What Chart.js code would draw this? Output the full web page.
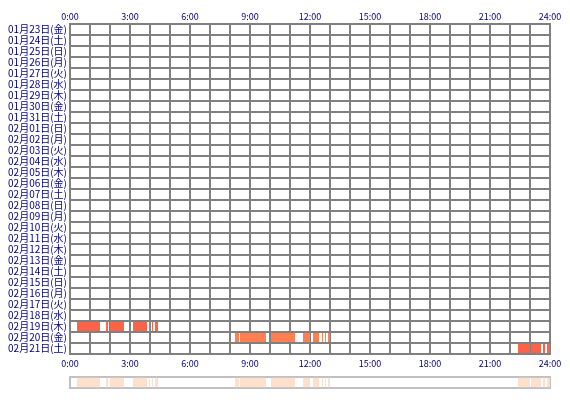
<!DOCTYPE html>
<html><head><meta charset="utf-8">
<script src="https://cdn.jsdelivr.net/npm/chart.js@4"></script>
<style>body{margin:0;background:#fff}#w{position:relative;width:570px;height:400px}
#c1{position:absolute;left:0;top:0}#c2{position:absolute;left:0;top:376px}</style>
</head><body><div id="w"><canvas id="c1" width="570" height="372"></canvas><canvas id="c2" width="570" height="13"></canvas></div>
<script>
const days=["01月23日(金)","01月24日(土)","01月25日(日)","01月26日(月)","01月27日(火)","01月28日(水)","01月29日(木)","01月30日(金)","01月31日(土)","02月01日(日)","02月02日(月)","02月03日(火)","02月04日(水)","02月05日(木)","02月06日(金)","02月07日(土)","02月08日(日)","02月09日(月)","02月10日(火)","02月11日(水)","02月12日(木)","02月13日(金)","02月14日(土)","02月15日(日)","02月16日(月)","02月17日(火)","02月18日(水)","02月19日(木)","02月20日(金)","02月21日(土)"];
const tickLabels=["0:00","3:00","6:00","9:00","12:00","15:00","18:00","21:00","24:00"];
const seg19=[[0.35,1.5],[1.8,1.9],[2.0,2.7],[3.15,3.85],[3.95,4.0],[4.1,4.15],[4.25,4.4]];
const seg20=[[8.25,8.45],[8.5,9.8],[10.05,11.25],[11.65,12.0],[12.15,12.45],[12.6,12.65],[12.75,12.8],[12.9,13.0]];
const seg21=[[22.4,23.0],[23.05,23.55],[23.65,23.75],[23.85,24.0]];
const font={family:"'Noto Sans CJK JP'",size:10};
const navy="#000080";
const tickCb=v=>v%3===0?tickLabels[v/3]:"";
function ds(day,segs,color){return {data:segs.map(s=>({y:day,x:s})),backgroundColor:color,barPercentage:1,categoryPercentage:0.82,grouped:false};}
new Chart(document.getElementById('c1'),{type:'bar',
data:{labels:days,datasets:[ds(days[27],seg19,"#ff6347"),ds(days[28],seg20,"#ff7f50"),ds(days[29],seg21,"#ff6347")]},
options:{indexAxis:'y',responsive:false,animation:false,layout:{padding:{right:20}},
plugins:{legend:{display:false},tooltip:{enabled:false}},
scales:{
x:{type:'linear',position:'top',min:0,max:24,ticks:{stepSize:1,autoSkip:false,maxRotation:0,callback:tickCb,color:navy,font:{size:9,family:font.family},padding:2},grid:{color:"#808080",lineWidth:2,drawTicks:false},border:{color:"#808080",width:2},afterFit:a=>{a.height=24;}},
x2:{type:'linear',position:'bottom',min:0,max:24,ticks:{stepSize:1,autoSkip:false,maxRotation:0,callback:tickCb,color:navy,font:{size:9,family:font.family},padding:4},grid:{display:false,drawTicks:false},border:{color:"#808080",width:2},afterFit:a=>{a.height=18;}},
y:{type:'category',ticks:{color:navy,font:font,padding:3,autoSkip:false},grid:{offset:true,color:"#808080",lineWidth:2,drawTicks:false},border:{color:"#808080",width:2},afterFit:a=>{a.width=70;}}
}}});
const all=seg19.concat(seg20,seg21);
new Chart(document.getElementById('c2'),{type:'bar',
data:{labels:["all"],datasets:[{data:all.map(s=>({y:"all",x:s})),backgroundColor:"#ffe0cc",barPercentage:1,categoryPercentage:0.85,grouped:false}]},
options:{indexAxis:'y',responsive:false,animation:false,layout:{padding:{right:20,top:1,bottom:1}},
plugins:{legend:{display:false},tooltip:{enabled:false}},
scales:{x:{type:'linear',min:0,max:24,display:true,ticks:{display:false},grid:{display:false,drawTicks:false},border:{color:"#c0c0c0",width:2},afterFit:a=>{a.height=0;}},
y:{type:'category',ticks:{display:false},grid:{display:false,drawTicks:false},border:{color:"#c0c0c0",width:2},afterFit:a=>{a.width=70;}},
y2:{type:'category',position:'right',ticks:{display:false},grid:{display:false,drawTicks:false},border:{color:"#c0c0c0",width:2},afterFit:a=>{a.width=0;}},
x3:{type:'linear',position:'top',min:0,max:24,ticks:{display:false},grid:{display:false,drawTicks:false},border:{color:"#c0c0c0",width:2},afterFit:a=>{a.height=0;}}}}});
</script></body></html>
